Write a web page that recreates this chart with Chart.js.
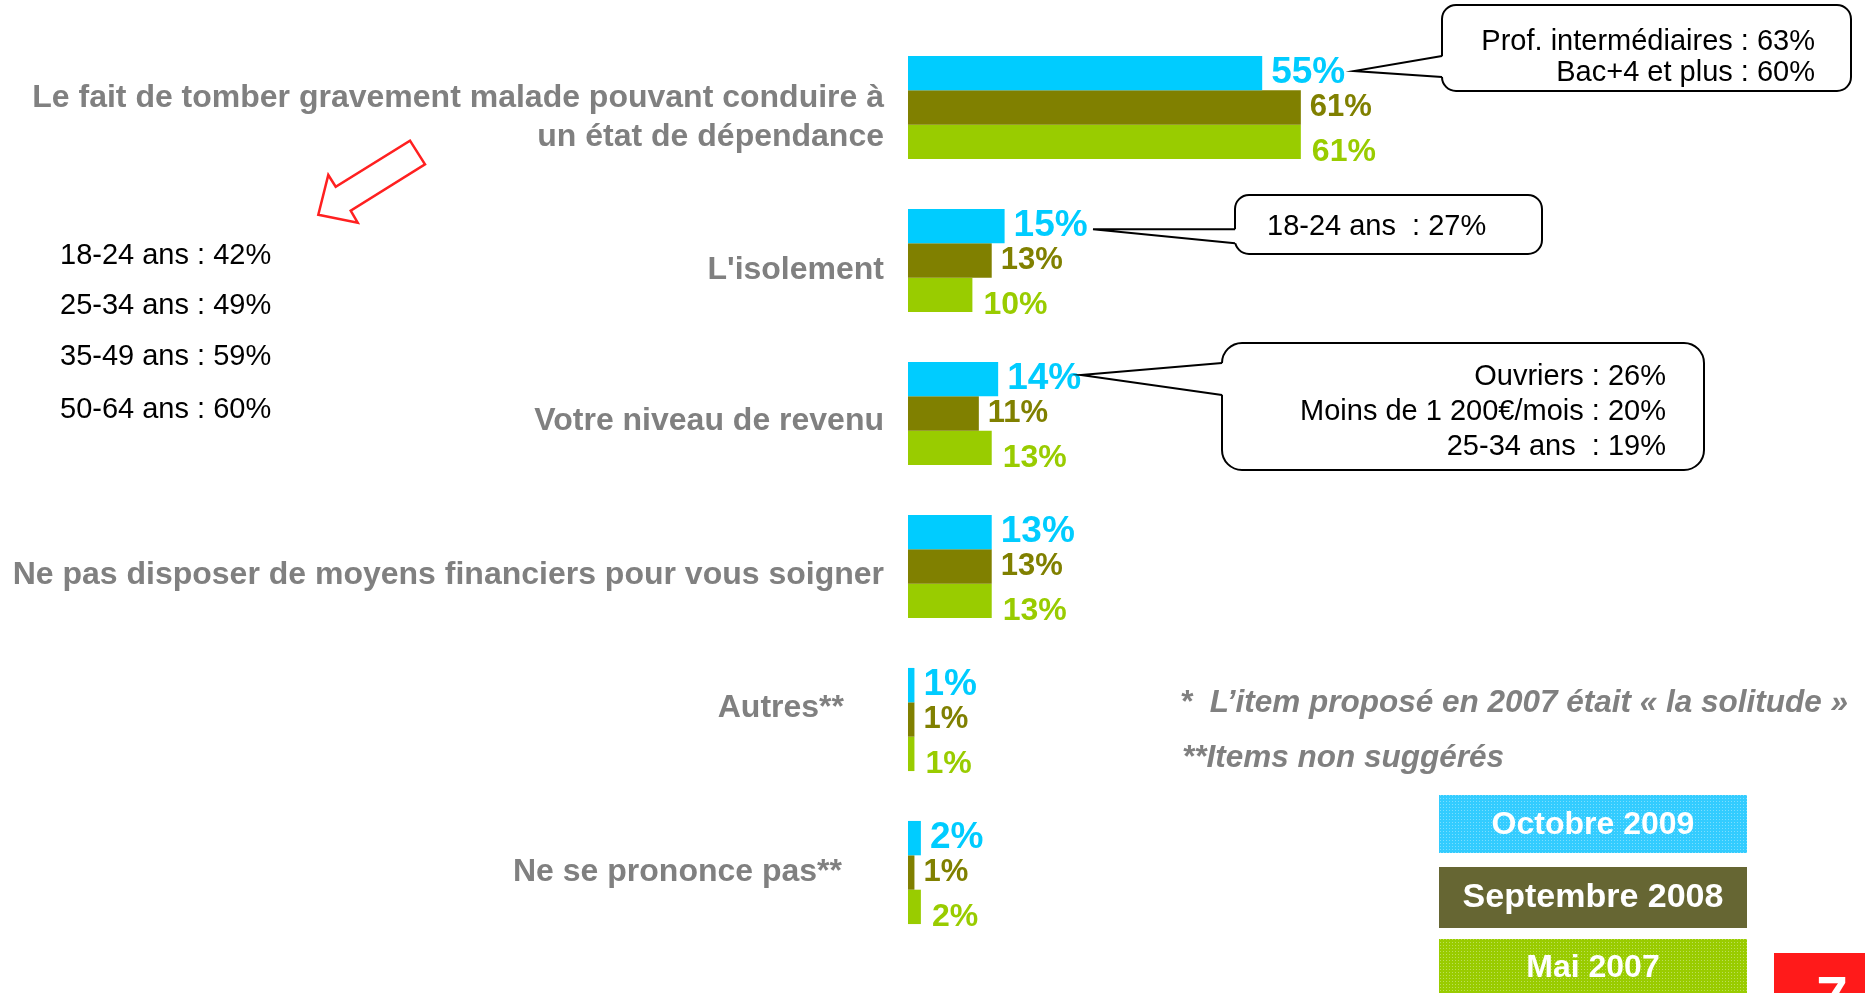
<!DOCTYPE html>
<html>
<head>
<meta charset="utf-8">
<script src="https://cdn.jsdelivr.net/npm/chart.js@4.4.1/dist/chart.umd.min.js"></script>
<style>
  html, body { margin: 0; padding: 0; background: #fff; overflow: hidden; }
  #wrap { position: relative; width: 1865px; height: 993px; }
</style>
</head>
<body>
<div id="wrap"><canvas id="risquesChart"></canvas></div>
<script>
// données
const categories = [
  ['Le fait de tomber gravement malade pouvant conduire à', 'un état de dépendance'],
  "L'isolement",
  'Votre niveau de revenu',
  'Ne pas disposer de moyens financiers pour vous soigner',
  'Autres**',
  'Ne se prononce pas**'
];
const seriesNames = ['Octobre 2009', 'Septembre 2008', 'Mai 2007'];
const oct2009 = [55, 15, 14, 13, 1, 2];
const sep2008 = [61, 13, 11, 13, 1, 1];
const mai2007 = [61, 10, 13, 13, 1, 2];

const ageBreakdown = ['18-24 ans : 42%', '25-34 ans : 49%', '35-49 ans : 59%', '50-64 ans : 60%'];
const callout1 = ['Prof. intermédiaires : 63%', 'Bac+4 et plus : 60%'];
const callout2 = ['18-24 ans  : 27%'];
const callout3 = ['Ouvriers : 26%', 'Moins de 1 200€/mois : 20%', '25-34 ans  : 19%'];
const footnotes = ['*  L\u2019item proposé en 2007 était « la solitude »', '**Items non suggérés'];
const pageNumber = '7';

const FONT = '"Liberation Sans", Arial, Helvetica, sans-serif';
const barColors = ['#00CCFF', '#808000', '#99CC00'];
const legendColors = ['#33CCFF', '#666633', '#99CC00'];

// placement des libellés de catégorie (bord droit, décalage vertical)
const labelLayout = [
  { x: 884, dy: 10 }, { x: 884, dy: 10 }, { x: 884, dy: 8 },
  { x: 884, dy: 9 }, { x: 844, dy: -11 }, { x: 842, dy: 0 }
];
// style des étiquettes de valeurs par série
const valueStyle = [
  { size: 37, dx: 9, dy: 0 },
  { size: 31, dx: 9, dy: 0 },
  { size: 32, dx: 11, dy: 10 }
];

function dotPattern(ctx, color) {
  const c = document.createElement('canvas');
  c.width = 3; c.height = 3;
  const g = c.getContext('2d');
  g.fillStyle = color;
  g.fillRect(0, 0, 3, 3);
  g.fillStyle = 'rgba(255,255,255,0.35)';
  g.fillRect(0, 0, 1, 1);
  return ctx.createPattern(c, 'repeat');
}

function drawCallout(ctx, box, tip, a1, a2, lines, align, tx, ys) {
  ctx.save();
  ctx.lineWidth = 2;
  ctx.strokeStyle = '#000';
  ctx.fillStyle = '#fff';
  ctx.beginPath();
  ctx.roundRect(box.x, box.y, box.w, box.h, box.r);
  ctx.fill();
  ctx.stroke();
  // pointe
  ctx.beginPath();
  ctx.moveTo(box.x + 2, a1);
  ctx.lineTo(tip.x, tip.y);
  ctx.lineTo(box.x + 2, a2);
  ctx.closePath();
  ctx.fill();
  ctx.beginPath();
  ctx.moveTo(box.x, a1);
  ctx.lineTo(tip.x, tip.y);
  ctx.lineTo(box.x, a2);
  ctx.stroke();
  ctx.fillStyle = '#000';
  ctx.font = '29px ' + FONT;
  ctx.textAlign = align;
  ctx.textBaseline = 'middle';
  lines.forEach((l, i) => ctx.fillText(l, tx, ys[i]));
  ctx.restore();
}

const labelsPlugin = {
  id: 'labelsPlugin',
  afterDatasetsDraw(chart) {
    const ctx = chart.ctx;
    const yScale = chart.scales.y;
    ctx.save();
    // libellés des catégories
    ctx.fillStyle = '#808080';
    ctx.font = 'bold 32px ' + FONT;
    ctx.textAlign = 'right';
    ctx.textBaseline = 'middle';
    categories.forEach((cat, i) => {
      const lines = Array.isArray(cat) ? cat : [cat];
      const yc = yScale.getPixelForValue(i) + labelLayout[i].dy;
      lines.forEach((l, j) => {
        ctx.fillText(l, labelLayout[i].x, yc + (j - (lines.length - 1) / 2) * 38.5);
      });
    });
    // étiquettes de valeurs
    ctx.textAlign = 'left';
    chart.data.datasets.forEach((ds, di) => {
      const meta = chart.getDatasetMeta(di);
      const st = valueStyle[di];
      ctx.font = 'bold ' + st.size + 'px ' + FONT;
      ctx.fillStyle = barColors[di];
      meta.data.forEach((bar, i) => {
        ctx.fillText(ds.data[i] + '%', bar.x + st.dx, bar.y + st.dy);
      });
    });
    ctx.restore();
  },
  afterDraw(chart) {
    const ctx = chart.ctx;
    ctx.save();

    // ventilation par âge
    ctx.fillStyle = '#000';
    ctx.font = '29px ' + FONT;
    ctx.textAlign = 'left';
    ctx.textBaseline = 'middle';
    [256, 306, 357, 410].forEach((y, i) => ctx.fillText(ageBreakdown[i], 60, y));

    // flèche rouge
    ctx.strokeStyle = '#FF2020';
    ctx.lineWidth = 2.5;
    ctx.lineJoin = 'miter';
    ctx.beginPath();
    ctx.moveTo(410, 140.7);
    ctx.lineTo(425, 164.3);
    ctx.lineTo(350.7, 210.7);
    ctx.lineTo(357.7, 222.7);
    ctx.lineTo(318.3, 214.7);
    ctx.lineTo(328.3, 175);
    ctx.lineTo(335.7, 186.7);
    ctx.closePath();
    ctx.stroke();

    // bulles
    drawCallout(ctx, { x: 1442, y: 5, w: 409, h: 86, r: 14 }, { x: 1354, y: 71 }, 56, 77,
      callout1, 'right', 1815, [41.7, 73.3]);
    drawCallout(ctx, { x: 1235, y: 195, w: 307, h: 59, r: 14 }, { x: 1093, y: 229.3 }, 229.3, 243.3,
      callout2, 'left', 1267, [227]);
    drawCallout(ctx, { x: 1222, y: 343, w: 482, h: 127, r: 20 }, { x: 1081, y: 375 }, 363, 395,
      callout3, 'right', 1666, [377, 412, 447]);

    // notes
    ctx.fillStyle = '#808080';
    ctx.font = 'italic bold 31.5px ' + FONT;
    ctx.textAlign = 'left';
    ctx.textBaseline = 'middle';
    ctx.fillText(footnotes[0], 1180, 703);
    ctx.fillText(footnotes[1], 1182, 758);

    // légende
    const boxes = [
      { y: 795, h: 58, size: 32, ty: 825 },
      { y: 867, h: 61, size: 34, ty: 898 },
      { y: 939, h: 60, size: 32, ty: 968 }
    ];
    boxes.forEach((b, i) => {
      ctx.fillStyle = i === 1 ? legendColors[i] : dotPattern(ctx, legendColors[i]);
      ctx.fillRect(1439, b.y, 308, b.h);
      ctx.fillStyle = '#fff';
      ctx.font = 'bold ' + b.size + 'px ' + FONT;
      ctx.textAlign = 'center';
      ctx.fillText(seriesNames[i], 1593, b.ty);
    });

    // numéro de page
    ctx.fillStyle = '#FF1A1A';
    ctx.fillRect(1774, 953, 91, 40);
    ctx.fillStyle = '#fff';
    ctx.font = 'bold 56px ' + FONT;
    ctx.textAlign = 'center';
    ctx.textBaseline = 'alphabetic';
    ctx.fillText(pageNumber, 1832, 1015);

    ctx.restore();
  }
};

const ctx = document.getElementById('risquesChart').getContext('2d');
const risquesChart = new Chart(ctx, {
  type: 'bar',
  data: {
    labels: categories,
    datasets: [
      { label: seriesNames[0], data: oct2009, backgroundColor: barColors[0] },
      { label: seriesNames[1], data: sep2008, backgroundColor: barColors[1] },
      { label: seriesNames[2], data: mai2007, backgroundColor: barColors[2] }
    ]
  },
  options: {
    indexAxis: 'y',
    responsive: true,
    maintainAspectRatio: false,
    animation: false,
    events: [],
    layout: { padding: { left: 908, right: 313, top: 31, bottom: 44 } },
    datasets: { bar: { categoryPercentage: 0.674, barPercentage: 1, borderWidth: 0 } },
    scales: {
      x: { display: false, min: 0, max: 100 },
      y: { display: false }
    },
    plugins: { legend: { display: false }, tooltip: { enabled: false } }
  },
  plugins: [labelsPlugin]
});
</script>
</body>
</html>
